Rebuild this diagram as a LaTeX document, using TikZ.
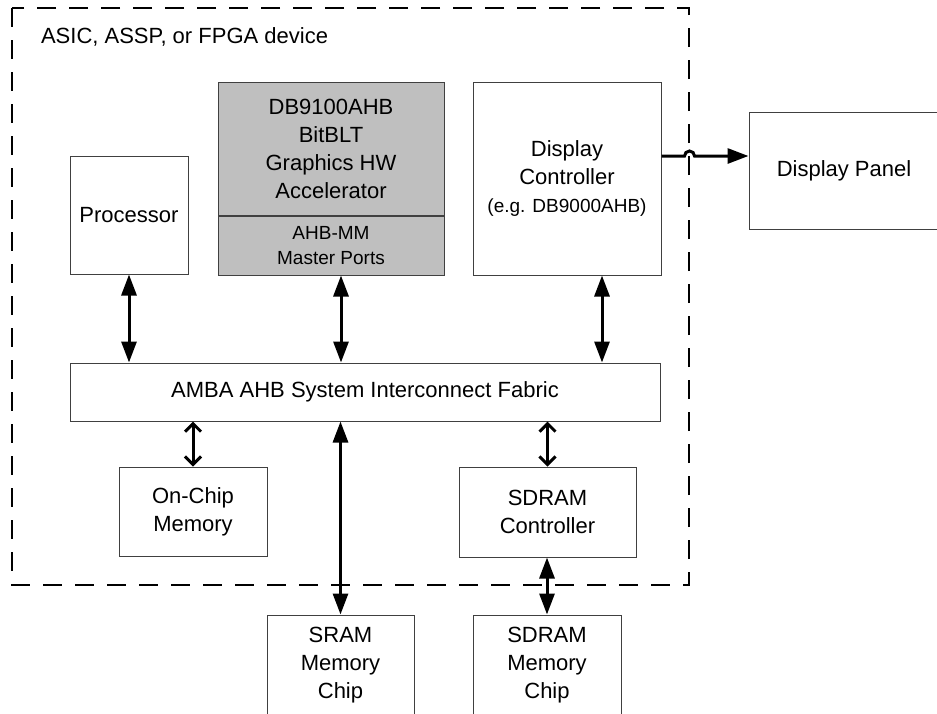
\documentclass[tikz,border=0pt]{standalone}
\usepackage{fontspec}
\setmainfont{Liberation Sans}
\usetikzlibrary{positioning, arrows.meta, calc}

\begin{document}
\begin{tikzpicture}[x=0.5pt, y=-0.5pt,
    blk/.style={draw=black!75, line width=0.5pt, inner sep=0pt, align=center, font=\fontsize{11}{14}\selectfont},
    small/.style={font=\fontsize{9.5}{12.5}\selectfont},
    bus/.style={line width=1.5pt, {Triangle[length=10.5pt,width=7.5pt]}-{Triangle[length=10.5pt,width=7.5pt]}},
    link/.style={line width=1.5pt, {Straight Barb[length=4pt,width=8pt]}-{Straight Barb[length=4pt,width=8pt]}},
    ]
    \path[use as bounding box, clip] (0,0) rectangle (937,713);

    % device outline
    \draw[line width=1.25pt, dash pattern=on 9.5pt off 6.5pt] (12,8) rectangle (689,585);
    \node[anchor=west, font=\fontsize{11}{14}\selectfont] (dev) at (34,37) {ASIC, ASSP, or FPGA device};

    \node[blk, minimum width=59pt, minimum height=59pt] (proc) at (129,215) {Processor};
    \node[blk, fill=black!25, minimum width=113pt, minimum height=66.5pt] (acc) at (331,148.5) {DB9100AHB\\BitBLT\\Graphics HW\\Accelerator};
    \node[blk, small, fill=black!25, minimum width=113pt, minimum height=29.5pt, below=0pt of acc] (ports) {AHB-MM\\Master Ports};
    \node[blk, minimum width=94pt, minimum height=96.5pt] (dc) at (567,178.5) {Display\\Controller\\{\fontsize{9.5}{12}\selectfont (e.g. DB9000AHB)}};
    \node[blk, minimum width=95pt, minimum height=58.5pt] (panel) at (844,170.5) {Display Panel};
    \node[blk, minimum width=295pt, minimum height=29pt] (fab) at (365,392) {AMBA AHB System Interconnect Fabric};
    \node[blk, minimum width=74pt, minimum height=44.5pt] (ocm) at (193,511.5) {On-Chip\\Memory};
    \node[blk, minimum width=88.5pt, minimum height=45pt] (sdc) at (547.5,512) {SDRAM\\Controller};
    \node[blk, minimum width=73.5pt, minimum height=50pt] (sram) at (340.5,665) {SRAM\\Memory\\Chip};
    \node[blk, minimum width=74pt, minimum height=50pt] (sdm) at (547,665) {SDRAM\\Memory\\Chip};

    \draw[bus] (proc.south) -- (proc.south |- fab.north);
    \draw[bus] ([xshift=5pt]ports.south) -- ([xshift=5pt]ports.south |- fab.north);
    \draw[bus] ([xshift=17.5pt]dc.south) -- ([xshift=17.5pt]dc.south |- fab.north);
    \draw[link] (ocm.north |- fab.south) -- (ocm.north);
    \draw[link] (sdc.north |- fab.south) -- (sdc.north);
    \draw[bus] (sram.north |- fab.south) -- (sram.north);
    \draw[bus] (sdm.north |- sdc.south) -- (sdm.north);

    % video out, hopping over the outline
    \coordinate (out) at ([yshift=11.25pt]dc.east);
    \draw[line width=1.5pt, -{Triangle[length=10.5pt,width=7.5pt]}]
        (out) -- ++(23,0) arc[start angle=180, end angle=0, radius=2.5pt] -- (out -| panel.west);
\end{tikzpicture}
\end{document}
